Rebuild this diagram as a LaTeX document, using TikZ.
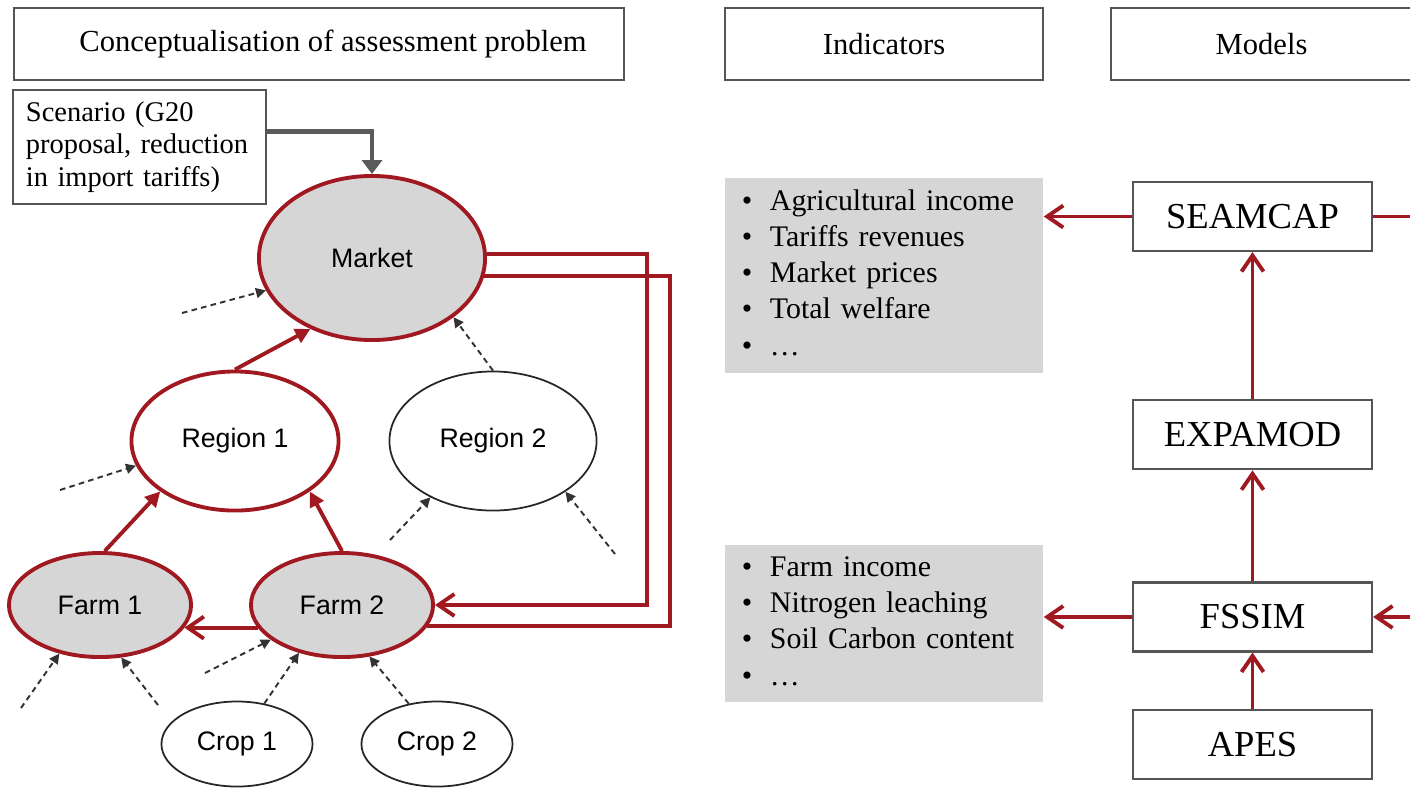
\documentclass[tikz,border=0pt]{standalone}
\usepackage{fontspec}
\setmainfont{Liberation Serif}
\setsansfont{Liberation Sans}
\usepackage{tikz}
\usetikzlibrary{positioning, arrows.meta, shapes.geometric}

\definecolor{vermelho}{RGB}{160,24,32}
\definecolor{cinza}{RGB}{214,214,214}
\definecolor{borda}{RGB}{85,85,85}
\definecolor{seta}{RGB}{90,90,90}

\begin{document}
\begin{tikzpicture}[x=0.01cm, y=-0.01cm,
        header/.style={draw=borda, line width=0.6pt, rectangle, minimum height=0.72cm, font=\fontsize{8.7}{10}\selectfont},
        model/.style={draw=borda, line width=0.6pt, rectangle, minimum width=2.39cm, minimum height=0.69cm, font=\fontsize{10.4}{12}\selectfont},
        indbox/.style={fill=cinza, rectangle, text width=2.84cm, inner xsep=0.17cm, inner ysep=0pt, align=left, font=\fontsize{8.5}{10.3}\selectfont},
        redell/.style={ellipse, draw=vermelho, line width=1.1pt, inner sep=0pt, font=\sffamily\fontsize{7.6}{9}\selectfont},
        plainell/.style={ellipse, draw=black!85, line width=0.5pt, inner sep=0pt, font=\sffamily\fontsize{7.6}{9}\selectfont},
        link/.style={draw=vermelho, line width=1.1pt},
        linkhead/.style={link, -{Triangle[length=1.5mm, width=1.5mm]}},
        linkbarb/.style={link, -{Straight Barb[length=1.6mm, width=2.2mm]}},
        extarrow/.style={draw=black!80, line width=0.55pt, dash pattern=on 1.6pt off 1.2pt, -{Triangle[length=1mm, width=1mm]}},
        scenarrow/.style={draw=seta, line width=1.4pt, -{Triangle[length=1.4mm, width=2mm]}}]

        \useasboundingbox (0,0) rectangle (1410,787);

        % Cabeçalhos
        \node (hconc) [header, minimum width=6.1cm] at (319,44) {\hspace*{0.28cm}Conceptualisation of assessment problem};
        \node (hind) [header, minimum width=3.18cm] at (884,44) {Indicators};
        \node (hmod) [header, minimum width=3.01cm] at (1261.5,44) {Models};

        % Cenário
        \node (scen) [draw=borda, line width=0.6pt, text width=2.27cm, inner xsep=0.13cm, minimum height=1.14cm, align=left, font=\fontsize{8.1}{9.3}\selectfont] at (139.5,147) {Scenario (G20\\proposal, reduction\\in import tariffs)};

        % Mercado, regiões, fazendas e culturas
        \node (market) [redell, fill=cinza, minimum width=2.26cm, minimum height=1.64cm] at (372,258) {Market};
        \node (reg1) [redell, minimum width=2.07cm, minimum height=1.39cm] at (235,441) {Region 1};
        \node (reg2) [plainell, minimum width=2.07cm, minimum height=1.39cm] at (493,441) {Region 2};
        \node (farm1) [redell, fill=cinza, minimum width=1.82cm, minimum height=1.04cm] at (100,605) {Farm 1};
        \node (farm2) [redell, fill=cinza, minimum width=1.82cm, minimum height=1.04cm] at (342,605) {Farm 2};
        \node (crop1) [plainell, minimum width=1.51cm, minimum height=0.85cm] at (237,744) {Crop 1};
        \node (crop2) [plainell, minimum width=1.51cm, minimum height=0.85cm] at (437,744) {Crop 2};

        % Ligações
        \draw[scenarrow] ([yshift=0.155cm]scen.east) -| (market.north);
        \draw[linkhead] (reg1.north) -- (market.229);
        \draw[linkhead] (farm1.85) -- (reg1.214);
        \draw[linkhead] (farm2.north) -- (reg1.326);
        \draw[linkbarb] (farm2.195) -- (farm1.345);
        \draw[linkbarb] (market.2) -- ++(160,0) |- (farm2.east);
        \draw[link] (market.-9) -- ++(186,0) |- (farm2.346);

        % Influências externas
        \coordinate (emk) at (182,313);
        \coordinate (erg1) at (60,490);
        \coordinate (erg2a) at (390,540);
        \coordinate (erg2b) at (615,554);
        \coordinate (efm1a) at (21,708);
        \coordinate (efm1b) at (158,705);
        \coordinate (efm2) at (205,673);
        \draw[extarrow] (emk) -- (market.197);
        \draw[extarrow] (reg2.north) -- (market.324);
        \draw[extarrow] (erg1) -- (reg1.194);
        \draw[extarrow] (erg2a) -- (reg2.222);
        \draw[extarrow] (erg2b) -- (reg2.325);
        \draw[extarrow] (efm1a) -- (farm1.230);
        \draw[extarrow] (efm1b) -- (farm1.292);
        \draw[extarrow] (efm2) -- (farm2.206);
        \draw[extarrow] (crop1.56) -- (farm2.228);
        \draw[extarrow] (crop2.125) -- (farm2.298);

        % Indicadores
        \node (inda) [indbox, minimum height=1.95cm] at (884,275.5) {%
            \begin{tabular}{@{}l@{\hspace{5pt}}l@{}}
            \textbullet & Agricultural income\\
            \textbullet & Tariffs revenues\\
            \textbullet & Market prices\\
            \textbullet & Total welfare\\
            \textbullet & \dots
            \end{tabular}};
        \node (indb) [indbox, minimum height=1.57cm] at (884,623.5) {%
            \begin{tabular}{@{}l@{\hspace{5pt}}l@{}}
            \textbullet & Farm income\\
            \textbullet & Nitrogen leaching\\
            \textbullet & Soil Carbon content\\
            \textbullet & \dots
            \end{tabular}};

        % Modelos
        \node (seamcap) [model] at (1252.5,216.5) {SEAMCAP};
        \node (expamod) [model, below=1.47cm of seamcap] {EXPAMOD};
        \node (fssim) [model, below=1.11cm of expamod] {FSSIM};
        \node (apes) [model, below=0.56cm of fssim] {APES};

        \coordinate (rim) at (1410,0);
        \draw[linkbarb] (seamcap.west) -- (seamcap.west -| inda.east);
        \draw[linkbarb] (fssim.west) -- (fssim.west -| indb.east);
        \draw[link] (seamcap.east) -- (seamcap.east -| rim);
        \draw[linkbarb] (fssim.east -| rim) -- (fssim.east);
        \draw[linkbarb] (apes) -- (fssim);
        \draw[linkbarb] (fssim) -- (expamod);
        \draw[linkbarb] (expamod) -- (seamcap);
\end{tikzpicture}
\end{document}
